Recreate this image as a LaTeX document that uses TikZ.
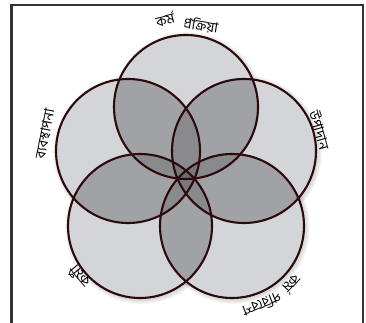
\documentclass[tikz,border=0pt]{standalone}
\usepackage{fontspec}
\newfontfamily\bn[Script=Bengali]{Hind Siliguri}
\definecolor{one}{HTML}{D4D5D8}
\definecolor{two}{HTML}{A1A2A6}
\definecolor{three}{HTML}{898A8E}
\definecolor{four}{HTML}{77787C}
\definecolor{five}{HTML}{6A6B6F}
\definecolor{ring}{HTML}{2B0A0C}
\definecolor{frame}{HTML}{333333}
\begin{document}
\begin{tikzpicture}[x=1pt,y=1pt,
  lbl/.style={font=\bn\fontsize{14}{15}\selectfont, inner sep=0pt, text=black},
  ringline/.style={draw=ring, line width=2.1pt},
  framel/.style={draw=frame, line width=2.6pt}]
\useasboundingbox (0,0) rectangle (366,323);
\def\R{72}
\coordinate (c1) at (186,216);
\coordinate (c2) at (244,172);
\coordinate (c3) at (232,97);
\coordinate (c4) at (140,97);
\coordinate (c5) at (128,172);
% frame
\draw[framel] (11.5,0) -- (11.5,318) -- (363,318) -- (363,0);
% soft shadow
\foreach \k in {1,...,5}{
  \foreach \i in {1,...,5}{
    \fill[black, opacity=0.03] ([shift={(1.5,-1.5)}]c\i) circle[radius=\R+\k*0.9];
  }
}
% base fills
\foreach \i in {1,...,5}{ \fill[one] (c\i) circle[radius=\R]; }
% pairs
\foreach \i/\j in {1/2,1/3,1/4,1/5,2/3,2/4,2/5,3/4,3/5,4/5}{
  \begin{scope}\clip (c\i) circle[radius=\R]; \fill[two] (c\j) circle[radius=\R];\end{scope}
}
% triples
\foreach \i/\j/\k in {1/2/3,1/2/4,1/2/5,1/3/4,1/3/5,1/4/5,2/3/4,2/3/5,2/4/5,3/4/5}{
  \begin{scope}\clip (c\i) circle[radius=\R]; \clip (c\j) circle[radius=\R]; \fill[three] (c\k) circle[radius=\R];\end{scope}
}
% quads
\foreach \i/\j/\k/\l in {1/2/3/4,1/2/3/5,1/2/4/5,1/3/4/5,2/3/4/5}{
  \begin{scope}\clip (c\i) circle[radius=\R]; \clip (c\j) circle[radius=\R]; \clip (c\k) circle[radius=\R]; \fill[four] (c\l) circle[radius=\R];\end{scope}
}
% all five
\begin{scope}
\clip (c1) circle[radius=\R]; \clip (c2) circle[radius=\R]; \clip (c3) circle[radius=\R]; \clip (c4) circle[radius=\R];
\fill[five] (c5) circle[radius=\R];
\end{scope}
% outlines
\foreach \i in {1,...,5}{ \draw[ringline] (c\i) circle[radius=\R]; }
% labels
\node[lbl, rotate=14] (t1) at (165,304) {কর্ম};
\node[lbl, rotate=-9] (t2) at (201,298) {প্রক্রিয়া};
\node[lbl, rotate=79] (l1) at (45,189) {ব্যবস্থাপনা};
\node[lbl, rotate=-74] (r1) at (320,193) {উপাদান};
\node[lbl, rotate=130] (bl1) at (79,46) {কর্মী};
\node[lbl, rotate=-132] (br1) at (292,39) {কর্ম};
\node[lbl, rotate=-158] (br2) at (262,18) {পরিবেশ};
\end{tikzpicture}
\end{document}
